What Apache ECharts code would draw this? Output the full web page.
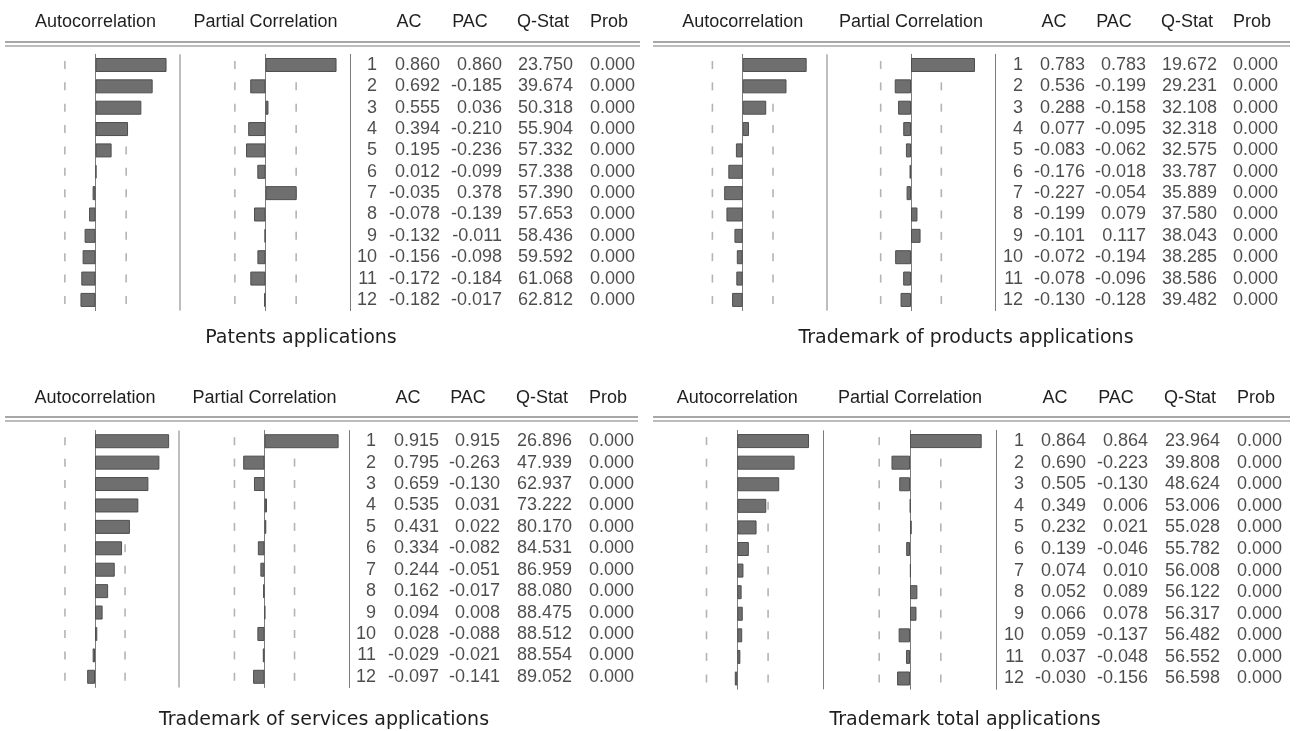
<!DOCTYPE html>
<html>
<head>
<meta charset="utf-8">
<script src="https://cdn.jsdelivr.net/npm/echarts@6/dist/echarts.min.js"></script>
<style>
  html, body { margin: 0; padding: 0; background: #ffffff; }
  #chart { width: 1296px; height: 731px; }
</style>
</head>
<body>
<div id="chart"></div>
<script>
// Lags and table column headings
const LAGS = ['1', '2', '3', '4', '5', '6', '7', '8', '9', '10', '11', '12'];
const COLUMN_HEADERS = ['', 'AC', 'PAC', 'Q-Stat', 'Prob'];
// Approximate 2 standard-error bands (±2/√29)
const BAND = 0.371;

// Patents applications
const patentsTitle = 'Patents applications';
const patentsAC   = [0.860, 0.692, 0.555, 0.394, 0.195, 0.012, -0.035, -0.078, -0.132, -0.156, -0.172, -0.182];
const patentsPAC  = [0.860, -0.185, 0.036, -0.210, -0.236, -0.099, 0.378, -0.139, -0.011, -0.098, -0.184, -0.017];
const patentsQ    = [23.750, 39.674, 50.318, 55.904, 57.332, 57.338, 57.390, 57.653, 58.436, 59.592, 61.068, 62.812];
const patentsProb = [0.000, 0.000, 0.000, 0.000, 0.000, 0.000, 0.000, 0.000, 0.000, 0.000, 0.000, 0.000];

// Trademark of products applications
const productsTitle = 'Trademark of products applications';
const productsAC   = [0.783, 0.536, 0.288, 0.077, -0.083, -0.176, -0.227, -0.199, -0.101, -0.072, -0.078, -0.130];
const productsPAC  = [0.783, -0.199, -0.158, -0.095, -0.062, -0.018, -0.054, 0.079, 0.117, -0.194, -0.096, -0.128];
const productsQ    = [19.672, 29.231, 32.108, 32.318, 32.575, 33.787, 35.889, 37.580, 38.043, 38.285, 38.586, 39.482];
const productsProb = [0.000, 0.000, 0.000, 0.000, 0.000, 0.000, 0.000, 0.000, 0.000, 0.000, 0.000, 0.000];

// Trademark of services applications
const servicesTitle = 'Trademark of services applications';
const servicesAC   = [0.915, 0.795, 0.659, 0.535, 0.431, 0.334, 0.244, 0.162, 0.094, 0.028, -0.029, -0.097];
const servicesPAC  = [0.915, -0.263, -0.130, 0.031, 0.022, -0.082, -0.051, -0.017, 0.008, -0.088, -0.021, -0.141];
const servicesQ    = [26.896, 47.939, 62.937, 73.222, 80.170, 84.531, 86.959, 88.080, 88.475, 88.512, 88.554, 89.052];
const servicesProb = [0.000, 0.000, 0.000, 0.000, 0.000, 0.000, 0.000, 0.000, 0.000, 0.000, 0.000, 0.000];

// Trademark total applications
const totalTitle = 'Trademark total applications';
const totalAC   = [0.864, 0.690, 0.505, 0.349, 0.232, 0.139, 0.074, 0.052, 0.066, 0.059, 0.037, -0.030];
const totalPAC  = [0.864, -0.223, -0.130, 0.006, 0.021, -0.046, 0.010, 0.089, 0.078, -0.137, -0.048, -0.156];
const totalQ    = [23.964, 39.808, 48.624, 53.006, 55.028, 55.782, 56.008, 56.122, 56.317, 56.482, 56.552, 56.598];
const totalProb = [0.000, 0.000, 0.000, 0.000, 0.000, 0.000, 0.000, 0.000, 0.000, 0.000, 0.000, 0.000];

const PANELS = [
  { title: patentsTitle,  ac: patentsAC,  pac: patentsPAC,  q: patentsQ,  prob: patentsProb },
  { title: productsTitle, ac: productsAC, pac: productsPAC, q: productsQ, prob: productsProb },
  { title: servicesTitle, ac: servicesAC, pac: servicesPAC, q: servicesQ, prob: servicesProb },
  { title: totalTitle,    ac: totalAC,    pac: totalPAC,    q: totalQ,    prob: totalProb }
];

// Page geometry of each correlogram block (pixels)
const LAYOUT = [
  { ac0: 95.5,  pac0: 265.5, unit: 82.6, top: 54.3,  h: 256.3, sep: [180, 350],     right: 640,  colRight: [377, 440, 502, 573, 635],     headY: 22,  ruleL: 5,   ruleY: 42,  title: [301, 338] },
  { ac0: 742.7, pac0: 911,   unit: 81.7, top: 54.3,  h: 256.3, sep: [827, 995],     right: 1290, colRight: [1023, 1085, 1146, 1217, 1278], headY: 22,  ruleL: 653, ruleY: 42,  title: [966, 338] },
  { ac0: 95,    pac0: 264.5, unit: 81,   top: 430.5, h: 257,   sep: [179, 349],     right: 638,  colRight: [376, 439, 500, 572, 634],     headY: 398, ruleL: 5,   ruleY: 417, title: [324, 720] },
  { ac0: 737.3, pac0: 910,   unit: 83,   top: 430.3, h: 259,   sep: [823.5, 996.5], right: 1290, colRight: [1024, 1086, 1148, 1220, 1282], headY: 398, ruleL: 653, ruleY: 417, title: [965, 720] }
];
// Header centres sit this far left of each value column's right edge
const HEAD_SHIFT = [0, 31, 32, 30, 26];

const TEXT_FONT = 'Liberation Sans, Arial, sans-serif';
const TITLE_FONT = 'DejaVu Sans, Verdana, sans-serif';
const TEXT_COLOR = '#1f1f1f';
const AXIS_COLOR = '#7c7c7c';

const grids = [], xAxes = [], yAxes = [], series = [], graphic = [], titles = [];

function barGrid(zeroX, L, name, values) {
  const gi = grids.length;
  grids.push({ left: zeroX - L.unit, top: L.top, width: 2 * L.unit, height: L.h });
  xAxes.push({
    gridIndex: gi, type: 'value', min: -1, max: 1, position: 'top',
    axisLine: { show: false }, axisTick: { show: false }, axisLabel: { show: false }, splitLine: { show: false },
    name: name, nameLocation: 'middle', nameGap: L.top - L.headY,
    nameTextStyle: { fontSize: 18, fontFamily: TEXT_FONT, color: TEXT_COLOR, verticalAlign: 'middle' }
  });
  yAxes.push({
    gridIndex: gi, type: 'category', data: LAGS, inverse: true,
    axisLine: { show: true, onZero: true, lineStyle: { color: AXIS_COLOR, width: 1 } },
    axisTick: { show: false }, axisLabel: { show: false }, splitLine: { show: false }
  });
  // dashed two-standard-error bands, one short stroke per lag
  series.push({
    type: 'scatter', xAxisIndex: gi, yAxisIndex: gi, silent: true, z: 2,
    symbol: 'rect', symbolSize: [1.6, 8],
    itemStyle: { color: '#a0a0a0' },
    data: LAGS.flatMap((l, i) => [[-BAND, i], [BAND, i]])
  });
  series.push({
    type: 'bar', xAxisIndex: gi, yAxisIndex: gi, silent: true, z: 3,
    barWidth: 14,
    itemStyle: { color: '#6f6f6f', borderColor: '#4e4e4e', borderWidth: 1 },
    data: values
  });
}

PANELS.forEach((P, k) => {
  const L = LAYOUT[k];
  barGrid(L.ac0, L, 'Autocorrelation', P.ac);
  barGrid(L.pac0, L, 'Partial Correlation', P.pac);

  // statistics table
  const gi = grids.length;
  const tw = L.right - L.sep[1];
  const band = tw / COLUMN_HEADERS.length;
  const centers = COLUMN_HEADERS.map((c, i) => L.sep[1] + (i + 0.5) * band);
  const rich = {};
  COLUMN_HEADERS.forEach((c, i) => {
    const shift = (L.colRight[i] - HEAD_SHIFT[i]) - centers[i];
    rich['h' + i] = {
      fontSize: 18, fontFamily: TEXT_FONT, color: TEXT_COLOR,
      padding: shift < 0 ? [0, -2 * shift, 0, 0] : [0, 0, 0, 2 * shift]
    };
  });
  grids.push({ left: L.sep[1], top: L.top, width: tw, height: L.h });
  xAxes.push({
    gridIndex: gi, type: 'category', data: COLUMN_HEADERS, position: 'top',
    axisLine: { show: false }, axisTick: { show: false }, splitLine: { show: false },
    axisLabel: {
      interval: 0, margin: L.top - L.headY, verticalAlign: 'middle',
      formatter: (v, i) => v ? '{h' + i + '|' + v + '}' : '',
      rich: rich
    }
  });
  yAxes.push({
    gridIndex: gi, type: 'category', data: LAGS, inverse: true,
    axisLine: { show: true, lineStyle: { color: AXIS_COLOR, width: 1 } },
    axisTick: { show: false }, axisLabel: { show: false }, splitLine: { show: false }
  });
  const columns = [
    LAGS,
    P.ac.map(v => v.toFixed(3)),
    P.pac.map(v => v.toFixed(3)),
    P.q.map(v => v.toFixed(3)),
    P.prob.map(v => v.toFixed(3))
  ];
  columns.forEach((cells, c) => {
    series.push({
      type: 'scatter', xAxisIndex: gi, yAxisIndex: gi, silent: true,
      symbolSize: 1, itemStyle: { color: 'rgba(0,0,0,0)' },
      label: {
        show: true, position: 'inside', align: 'right', verticalAlign: 'middle',
        offset: [L.colRight[c] - centers[c], 0],
        fontSize: 18, fontFamily: TEXT_FONT, color: TEXT_COLOR,
        formatter: p => p.name
      },
      data: cells.map((t, i) => ({ value: [c, i], name: t }))
    });
  });

  // separator between the two correlograms
  graphic.push({
    type: 'line', silent: true,
    shape: { x1: L.sep[0], y1: L.top, x2: L.sep[0], y2: L.top + L.h },
    style: { stroke: AXIS_COLOR, lineWidth: 1 }
  });
  // double rule under the headings
  graphic.push({
    type: 'line', silent: true,
    shape: { x1: L.ruleL, y1: L.ruleY, x2: L.right, y2: L.ruleY },
    style: { stroke: '#8a8a8a', lineWidth: 1.6 }
  });
  graphic.push({
    type: 'line', silent: true,
    shape: { x1: L.ruleL, y1: L.ruleY + 4, x2: L.right, y2: L.ruleY + 4 },
    style: { stroke: '#a6a6a6', lineWidth: 1.4 }
  });

  titles.push({
    text: P.title, left: L.title[0], top: L.title[1], padding: 0,
    textAlign: 'center', textVerticalAlign: 'middle',
    textStyle: { fontSize: 19, fontWeight: 'normal', fontFamily: TITLE_FONT, color: '#1e1e1e' }
  });
});

const chart = echarts.init(document.getElementById('chart'), null, { renderer: 'canvas' });
chart.setOption({
  animation: false,
  backgroundColor: '#ffffff',
  title: titles,
  grid: grids,
  xAxis: xAxes,
  yAxis: yAxes,
  series: series,
  graphic: graphic
});
</script>
</body>
</html>
